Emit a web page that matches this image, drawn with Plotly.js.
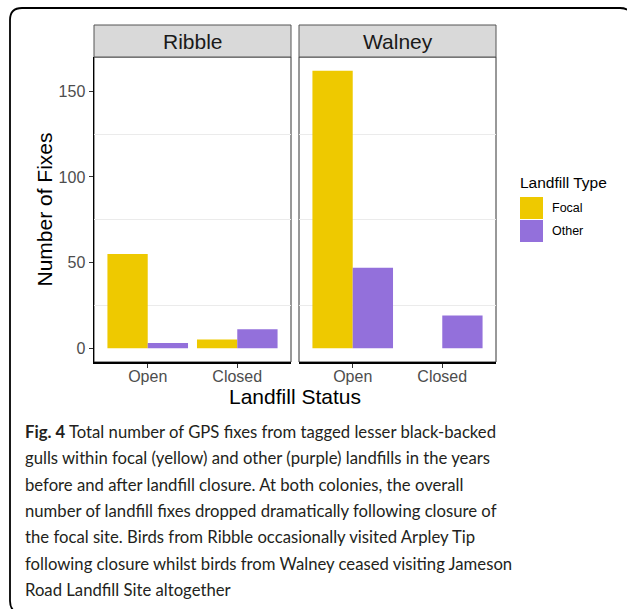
<!DOCTYPE html>
<html>
<head>
<meta charset="utf-8">
<script src="https://cdn.plot.ly/plotly-3.0.1.min.js"></script>
<style>
  html, body { margin: 0; padding: 0; background: #fff; overflow: hidden; }
  #chart { width: 627px; height: 609px; }
</style>
</head>
<body>
<div id="chart"></div>
<script>
// Landfill GPS fixes by colony, landfill status and landfill type
const colonies = ['Ribble', 'Walney'];
const statuses = ['Open', 'Closed'];
const seriesNames = ['Focal', 'Other'];
const seriesColors = ['#EEC900', '#9370DB'];

const ribbleFocal = [55, 5];
const ribbleOther = [3, 11];
const walneyFocal = [162, null];
const walneyOther = [47, 19];

const yTickVals = [0, 50, 100, 150];
const yMinorVals = [25, 75, 125];

const captionLines = [
  '<b>Fig. 4</b> Total number of GPS fixes from tagged lesser black-backed',
  'gulls within focal (yellow) and other (purple) landfills in the years',
  'before and after landfill closure. At both colonies, the overall',
  'number of landfill fixes dropped dramatically following closure of',
  'the focal site. Birds from Ribble occasionally visited Arpley Tip',
  'following closure whilst birds from Walney ceased visiting Jameson',
  'Road Landfill Site altogether'
];

const W = 627, H = 609;
const px = x => x / W;          // pixel -> paper x
const py = y => 1 - y / H;      // pixel -> paper y

const panelX = [[94, 291], [299, 496]];
const panelTop = 57, panelBottom = 362, stripTop = 25;

const seriesByColony = [
  [ribbleFocal, ribbleOther],
  [walneyFocal, walneyOther]
];

const traces = [];
seriesByColony.forEach((series, c) => {
  series.forEach((vals, s) => {
    traces.push({
      type: 'bar',
      x: statuses,
      y: vals,
      name: seriesNames[s],
      xaxis: c === 0 ? 'x' : 'x2',
      yaxis: c === 0 ? 'y' : 'y2',
      marker: { color: seriesColors[s], line: { width: 0 } },
      showlegend: false,
      hoverinfo: 'skip'
    });
  });
});

const chartFont = "'Liberation Sans', Arial, sans-serif";
const captionFont = "Lato, 'Open Sans', sans-serif";
const maxVal = 162;
const pad = maxVal * 0.05;

const xAxisBase = {
  type: 'category',
  range: [-0.6, 1.6],
  showgrid: false,
  zeroline: false,
  showline: true,
  linecolor: '#000',
  linewidth: 1.5,
  ticks: 'outside',
  ticklen: 4,
  tickwidth: 1,
  tickcolor: '#333',
  ticklabelstandoff: -5,
  tickfont: { family: chartFont, size: 16, color: '#4d4d4d' },
  fixedrange: true
};

const yAxisBase = {
  range: [-pad, maxVal + pad],
  domain: [py(panelBottom), py(panelTop)],
  tickmode: 'array',
  tickvals: yTickVals,
  showgrid: false,
  zeroline: false,
  minor: {
    tickmode: 'array',
    tickvals: yMinorVals,
    showgrid: true,
    gridcolor: '#ebebeb',
    gridwidth: 1,
    ticks: ''
  },
  fixedrange: true
};

const shapes = [];
const annotations = [];

// panel borders and facet strips
colonies.forEach((name, c) => {
  const [x0, x1] = panelX[c];
  shapes.push({
    type: 'rect', xref: 'paper', yref: 'paper', layer: 'below',
    x0: px(x0), x1: px(x1), y0: py(panelBottom), y1: py(panelTop),
    line: { color: '#333', width: 1 }, fillcolor: 'rgba(0,0,0,0)'
  });
  shapes.push({
    type: 'rect', xref: 'paper', yref: 'paper',
    x0: px(x0), x1: px(x1), y0: py(panelTop), y1: py(stripTop),
    line: { color: '#555', width: 1 }, fillcolor: '#D9D9D9'
  });
  annotations.push({
    xref: 'paper', yref: 'paper', x: px((x0 + x1) / 2), y: py((panelTop + stripTop) / 2),
    xanchor: 'center', yanchor: 'middle', showarrow: false, text: name,
    font: { family: chartFont, size: 21, color: '#1a1a1a' }
  });
});

// shared x-axis title
annotations.push({
  xref: 'paper', yref: 'paper', x: px(295), y: py(396),
  xanchor: 'center', yanchor: 'middle', showarrow: false, text: 'Landfill Status',
  font: { family: chartFont, size: 21, color: '#000' }
});

// legend
annotations.push({
  xref: 'paper', yref: 'paper', x: px(518), y: py(182),
  xanchor: 'left', yanchor: 'middle', showarrow: false, text: 'Landfill Type',
  font: { family: chartFont, size: 15.5, color: '#000' }
});
seriesNames.forEach((name, s) => {
  const top = 197 + s * 23;
  shapes.push({
    type: 'rect', xref: 'paper', yref: 'paper',
    x0: px(520), x1: px(543), y0: py(top + 22), y1: py(top),
    line: { width: 0 }, fillcolor: seriesColors[s]
  });
  annotations.push({
    xref: 'paper', yref: 'paper', x: px(550), y: py(top + 11),
    xanchor: 'left', yanchor: 'middle', showarrow: false, text: name,
    font: { family: chartFont, size: 12.5, color: '#000' }
  });
});

// figure caption
captionLines.forEach((line, i) => {
  annotations.push({
    xref: 'paper', yref: 'paper', x: px(23), y: py(432 + i * 26.3),
    xanchor: 'left', yanchor: 'middle', showarrow: false, text: line,
    font: { family: captionFont, size: 16.7, color: '#231f20' }
  });
});

// rounded outer frame (right and bottom edges run just past the page)
const fx0 = 10, fy0 = 8, fx1 = 632, fy1 = 613, r = 12;
const P = (x, y) => px(x) + ',' + py(y);
shapes.push({
  type: 'path', xref: 'paper', yref: 'paper',
  path: 'M' + P(fx0, fy0 + r) + ' Q' + P(fx0, fy0) + ' ' + P(fx0 + r, fy0) +
        ' L' + P(fx1 - r, fy0) + ' Q' + P(fx1, fy0) + ' ' + P(fx1, fy0 + r) +
        ' L' + P(fx1, fy1 - r) + ' Q' + P(fx1, fy1) + ' ' + P(fx1 - r, fy1) +
        ' L' + P(fx0 + r, fy1) + ' Q' + P(fx0, fy1) + ' ' + P(fx0, fy1 - r) + ' Z',
  line: { color: '#000', width: 1.8 }, fillcolor: 'rgba(0,0,0,0)'
});

const layout = {
  width: W, height: H,
  margin: { l: 0, r: 0, t: 0, b: 0 },
  paper_bgcolor: '#fff',
  plot_bgcolor: '#fff',
  barmode: 'group',
  bargap: 0.1,
  bargroupgap: 0,
  showlegend: false,
  xaxis: Object.assign({}, xAxisBase, { domain: [px(panelX[0][0]), px(panelX[0][1])], anchor: 'y' }),
  xaxis2: Object.assign({}, xAxisBase, { domain: [px(panelX[1][0]), px(panelX[1][1])], anchor: 'y2' }),
  yaxis: Object.assign({}, yAxisBase, {
    anchor: 'x',
    showline: true, linecolor: '#000', linewidth: 1.5,
    ticks: 'outside', ticklen: 4, tickwidth: 1, tickcolor: '#333',
    tickfont: { family: chartFont, size: 16, color: '#4d4d4d' },
    title: { text: 'Number of Fixes', font: { family: chartFont, size: 21, color: '#000' }, standoff: 0 }
  }),
  yaxis2: Object.assign({}, yAxisBase, {
    anchor: 'x2', matches: 'y',
    showline: false, showticklabels: false, ticks: ''
  }),
  shapes: shapes,
  annotations: annotations
};

Plotly.newPlot('chart', traces, layout, { staticPlot: true, displayModeBar: false });
</script>
</body>
</html>
